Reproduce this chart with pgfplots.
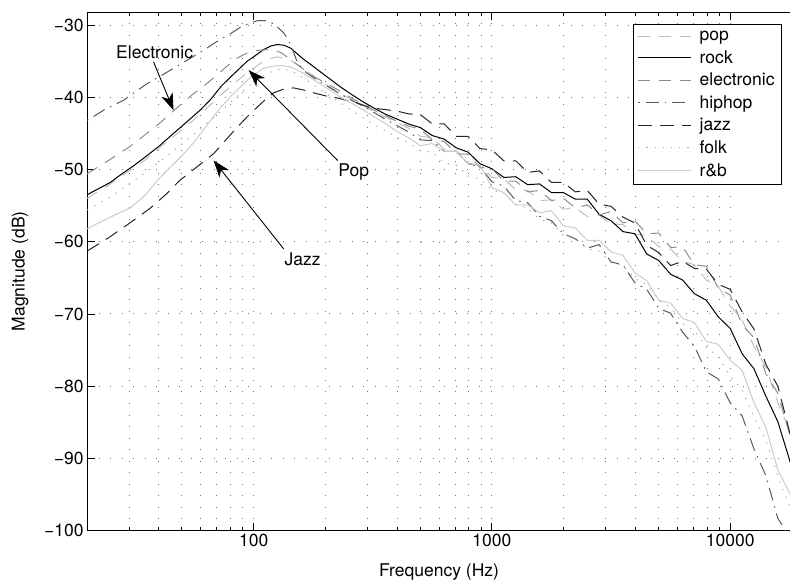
\documentclass[border=0pt]{standalone}
\usepackage{fontspec}
\setmainfont{TeX Gyre Heros}
\usepackage{pgfplots}
\pgfplotsset{compat=1.18}
\usetikzlibrary{arrows.meta}
\newcommand{\fs}{\fontsize{17.5}{21}\selectfont}
\definecolor{rbcol}{rgb}{0.80,0.80,0.77}
\begin{document}
\begin{tikzpicture}
\begin{semilogxaxis}[
  name=ax,
  scale only axis, width=703pt, height=518pt,
  xmin=20, xmax=18000, ymin=-100, ymax=-28.2,
  xtick={100,1000,10000}, xticklabels={100,1000,10000},
  minor xtick={20,30,40,50,60,70,80,90,200,300,400,500,600,700,800,900,2000,3000,4000,5000,6000,7000,8000,9000},
  ytick={-100,-90,-80,-70,-60,-50,-40,-30},
  yticklabels={−100,−90,−80,−70,−60,−50,−40,−30},
  ytick pos=left, xtick pos=both,
  tick align=inside,
  major tick length=8pt, minor tick length=4pt,
  xmajorgrids, xminorgrids, ymajorgrids,
  grid style={black!55, line width=1pt, dash pattern=on 1pt off 10.5pt},
  minor grid style={black!55, line width=1pt, dash pattern=on 1pt off 10.5pt},
  axis line style={line width=1pt},
  every tick/.style={black, line width=0.9pt},
  tick label style={font=\fs},
  xlabel={Frequency (Hz)}, ylabel={Magnitude (dB)},
  every axis x label/.style={at={(rel axis cs:0.5,0)}, anchor=center, yshift=-41pt, font=\fs},
  every axis y label/.style={at={(rel axis cs:0,0.5)}, anchor=center, rotate=90, yshift=67pt, font=\fs},
  legend style={at={(rel axis cs:0.775,0.977)}, anchor=north west, draw=black, line width=1pt,
    font=\fs, inner sep=4.5pt, row sep=4.4pt, column 2/.style={nodes={text width=100pt}}},
  legend cell align=left,
  legend image code/.code={\draw[#1] (5pt,0pt) -- (58pt,0pt); \path (64pt,0pt);},
]
% pop
\addplot[black!25, line width=1pt, dash pattern=on 12pt off 9pt] coordinates {
(20,-54.0)(25,-52.0)(30,-50.2)(35,-48.7)(40,-47.1)(45,-45.7)(50,-44.5)(60,-42.3)(70,-40.2)(80,-38.5)(90,-37.1)(97,-36.3)(110,-35.0)(125,-34.4)(140,-34.7)(160,-35.9)(180,-37.2)(200,-38.2)(232,-39.5)(260,-40.4)(290,-41.2)(316,-41.9)(355,-42.7)(398,-43.5)(447,-44.3)(501,-45.4)(562,-45.6)(631,-47.2)(708,-47.4)(794,-49.1)(891,-49.4)(1000,-51.1)(1122,-51.3)(1259,-52.8)(1413,-52.9)(1585,-54.3)(1778,-54.2)(1995,-55.5)(2239,-55.3)(2512,-56.5)(2818,-56.3)(3162,-57.6)(3548,-57.6)(3981,-59.0)(4467,-59.1)(5012,-60.7)(5623,-61.0)(6310,-62.7)(7079,-63.2)(7943,-65.3)(8913,-66.2)(10000,-68.9)(11220,-70.8)(12589,-74.5)(14125,-77.4)(15849,-82.3)(17783,-86.2)(18000,-87.4)};
\addlegendentry{pop}
% rock
\addplot[black, line width=1pt] coordinates {
(20,-53.5)(22.5,-52.6)(25,-51.8)(28,-50.6)(31,-49.6)(35,-48.3)(40,-46.8)(45,-45.3)(50,-44.0)(55,-42.8)(60,-41.7)(66,-40.3)(73,-38.5)(80,-37.2)(88,-35.9)(94,-35.0)(100,-34.4)(110,-33.4)(118,-32.9)(126,-32.7)(134,-32.8)(143,-33.2)(160,-34.6)(179,-35.8)(200,-37.0)(232,-38.6)(260,-39.7)(290,-40.7)(316,-41.4)(355,-42.3)(398,-43.0)(447,-43.7)(501,-44.2)(562,-45.3)(631,-45.8)(708,-47.0)(794,-47.6)(891,-49.2)(1000,-49.9)(1122,-51.1)(1259,-51.0)(1413,-52.1)(1585,-52.0)(1778,-53.2)(1995,-53.2)(2239,-54.1)(2512,-54.1)(2818,-56.2)(3162,-57.1)(3548,-58.6)(3981,-58.9)(4467,-61.7)(5012,-62.6)(5623,-64.5)(6310,-65.3)(7079,-67.2)(7943,-68.1)(8913,-70.4)(10000,-72.0)(11220,-75.5)(12589,-77.6)(14125,-81.4)(15849,-84.9)(17783,-90.3)(18000,-90.9)};
\addlegendentry{rock}
% electronic
\addplot[black!45, line width=1pt, dash pattern=on 12pt off 9pt] coordinates {
(20,-50.6)(25,-48.6)(30,-46.9)(35,-45.2)(40,-43.7)(46,-41.9)(55,-39.7)(62,-38.4)(68,-37.3)(76,-35.9)(85,-34.6)(95,-33.8)(104,-33.5)(118,-33.4)(130,-33.8)(143,-34.8)(160,-36.0)(180,-37.2)(200,-38.0)(232,-39.2)(260,-40.2)(290,-41.0)(316,-41.7)(355,-42.5)(398,-43.3)(447,-44.0)(501,-44.4)(562,-45.9)(631,-46.1)(708,-47.8)(794,-47.9)(891,-49.7)(1000,-49.9)(1122,-51.6)(1259,-51.6)(1413,-53.1)(1585,-52.9)(1778,-54.3)(1995,-54.0)(2239,-55.3)(2512,-54.9)(2818,-56.3)(3162,-55.8)(3548,-57.4)(3981,-57.1)(4467,-58.9)(5012,-58.8)(5623,-60.8)(6310,-60.7)(7079,-63.2)(7943,-63.4)(8913,-66.4)(10000,-67.4)(11220,-71.5)(12589,-73.3)(14125,-78.3)(15849,-81.0)(17783,-86.7)(18000,-86.3)};
\addlegendentry{electronic}
% hiphop
\addplot[black!65, line width=1pt, dash pattern=on 1.5pt off 6pt on 13pt off 6pt] coordinates {
(20,-43.2)(24,-41.6)(28.5,-40.4)(32,-39.2)(35.8,-38.1)(40,-37.2)(45,-36.2)(53,-34.8)(61.6,-33.5)(70,-32.3)(80,-31.2)(88,-30.3)(97,-29.7)(104,-29.4)(112,-29.4)(118,-29.6)(126,-30.3)(133,-31.0)(139,-31.9)(145,-33.2)(153,-35.3)(165,-36.5)(180,-37.4)(200,-38.3)(232,-39.6)(260,-40.5)(290,-41.3)(316,-42.0)(355,-43.0)(398,-43.9)(447,-44.8)(501,-45.9)(562,-46.0)(631,-47.5)(708,-47.5)(794,-49.2)(891,-49.6)(1000,-51.7)(1122,-52.3)(1259,-54.3)(1413,-54.6)(1585,-56.5)(1778,-57.1)(1995,-58.9)(2239,-59.6)(2512,-60.9)(2818,-60.4)(3162,-62.8)(3548,-63.2)(3981,-65.7)(4467,-66.6)(5012,-69.2)(5623,-69.9)(6310,-72.5)(7079,-74.5)(7943,-78.0)(8913,-79.0)(10000,-82.3)(11220,-84.1)(12589,-88.7)(14125,-92.4)(15849,-98.3)(17100,-100.0)(17783,-101.5)};
\addlegendentry{hiphop}
% jazz
\addplot[black!85, line width=1pt, dash pattern=on 14pt off 8pt] coordinates {
(20,-61.3)(25,-59.3)(28.5,-58.0)(33,-56.5)(37,-55.3)(43,-53.4)(49,-51.5)(57,-49.8)(68,-47.8)(76,-46.0)(85,-44.2)(94,-42.7)(104,-41.3)(113,-40.2)(121,-39.4)(133,-38.9)(147,-38.7)(162,-39.0)(179,-39.4)(200,-39.8)(225,-40.1)(250,-40.5)(273,-40.8)(300,-41.3)(316,-41.5)(355,-41.7)(398,-41.9)(447,-42.3)(501,-42.4)(562,-43.7)(631,-43.7)(708,-45.4)(794,-45.4)(891,-47.1)(1000,-47.3)(1122,-48.8)(1259,-48.8)(1413,-50.4)(1585,-50.2)(1778,-51.8)(1995,-51.8)(2239,-53.1)(2512,-52.9)(2818,-54.8)(3162,-55.1)(3548,-56.6)(3981,-57.4)(4467,-60.5)(5012,-61.5)(5623,-63.3)(6310,-62.7)(7079,-63.7)(7943,-63.8)(8913,-65.9)(10000,-66.6)(11220,-69.7)(12589,-72.1)(14125,-77.0)(15849,-80.0)(17783,-86.4)(18000,-87.0)};
\addlegendentry{jazz}
% folk
\addplot[black!35, line width=1pt, dash pattern=on 1.2pt off 7pt] coordinates {
(20,-55.6)(25,-53.8)(30,-52.0)(35,-50.5)(40,-49.0)(45,-47.7)(50,-46.5)(60,-44.3)(68,-42.8)(76,-41.4)(85,-39.9)(95,-38.5)(105,-37.4)(118,-36.5)(130,-36.1)(143,-36.3)(160,-37.2)(180,-38.4)(200,-39.4)(232,-40.8)(260,-41.9)(290,-42.9)(316,-43.7)(355,-44.6)(398,-45.5)(447,-46.3)(501,-47.4)(562,-47.6)(631,-49.1)(708,-49.4)(794,-50.9)(891,-51.3)(1000,-52.9)(1122,-53.3)(1259,-54.9)(1413,-55.3)(1585,-56.9)(1778,-57.4)(1995,-59.1)(2239,-59.5)(2512,-61.0)(2818,-61.3)(3162,-62.9)(3548,-63.3)(3981,-65.1)(4467,-65.9)(5012,-68.1)(5623,-69.1)(6310,-71.3)(7079,-72.3)(7943,-74.6)(8913,-75.9)(10000,-78.6)(11220,-80.5)(12589,-84.3)(14125,-87.5)(15849,-92.5)(17783,-96.7)(18000,-97.5)};
\addlegendentry{folk}
% r&b
\addplot[rbcol, line width=1pt] coordinates {
(20,-58.2)(25,-56.6)(30.4,-55.3)(35,-53.6)(39.5,-51.5)(44,-49.9)(49.3,-48.3)(55,-46.6)(60,-45.0)(66,-43.2)(72.7,-41.4)(80,-39.9)(91,-38.1)(97,-37.2)(110,-36.0)(120,-35.7)(130,-35.6)(143,-35.8)(160,-36.6)(179,-37.6)(200,-38.6)(232,-40.0)(260,-40.9)(290,-41.8)(316,-42.6)(355,-43.6)(398,-44.7)(447,-45.6)(501,-46.7)(562,-46.4)(631,-47.5)(708,-47.5)(794,-49.2)(891,-49.4)(1000,-52.5)(1122,-53.2)(1259,-54.9)(1413,-54.9)(1585,-56.0)(1778,-55.7)(1995,-57.8)(2239,-58.1)(2512,-59.8)(2818,-59.8)(3162,-61.4)(3548,-61.9)(3981,-64.3)(4467,-65.4)(5012,-68.1)(5623,-68.5)(6310,-70.6)(7079,-71.2)(7943,-73.8)(8913,-74.2)(10000,-76.4)(11220,-77.8)(12589,-82.3)(14125,-85.7)(15849,-91.6)(17783,-94.8)(18000,-95.6)};
\addlegendentry{r\&b}
% annotations
\node[font=\fs] at (axis cs:38.4,-33.75) {Electronic};
\draw[line width=0.9pt, -{Stealth[length=17pt,width=12pt,inset=5pt]}] (axis cs:38,-35.1) -- (axis cs:46.1,-41.8);
\node[font=\fs] at (axis cs:263,-50.4) {Pop};
\draw[line width=0.9pt, -{Stealth[length=17pt,width=12pt,inset=5pt]}] (axis cs:225,-48.75) -- (axis cs:95.3,-36.25);
\node[font=\fs] at (axis cs:160.6,-62.4) {Jazz};
\draw[line width=0.9pt, -{Stealth[length=17pt,width=12pt,inset=5pt]}] (axis cs:133.7,-61.0) -- (axis cs:67.9,-48.75);
\end{semilogxaxis}
\pgfresetboundingbox
\path[use as bounding box] ([xshift=-87pt,yshift=-51pt]ax.south west) rectangle ([xshift=-1pt,yshift=12pt]ax.north east);
\end{tikzpicture}
\end{document}
